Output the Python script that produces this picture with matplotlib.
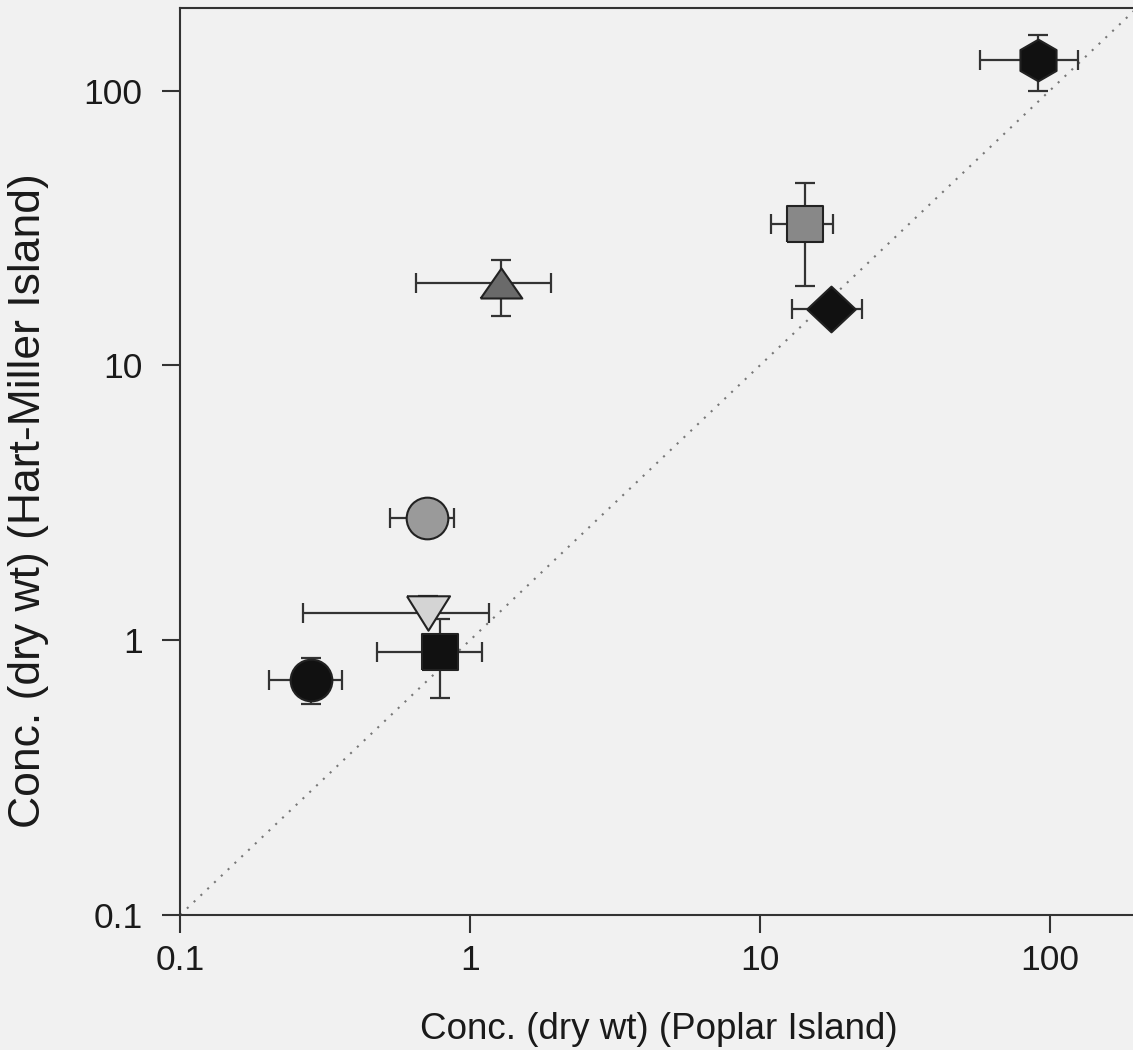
import matplotlib
matplotlib.use("Agg")
import matplotlib.pyplot as plt
import numpy as np

plt.rcParams["font.family"] = ["Liberation Sans", "DejaVu Sans"]

# ── data ───────────────────────────────────────────────────────────────
poplar = [0.283, 0.711, 0.716, 0.789, 1.28, 14.3, 17.6, 90.9]
poplar_lo = [0.203, 0.530, 0.265, 0.477, 0.652, 10.9, 12.9, 57.4]
poplar_hi = [0.362, 0.881, 1.16, 1.10, 1.90, 17.9, 22.5, 125.0]
hart_miller = [0.716, 2.78, 1.26, 0.904, 20.0, 32.8, 16.0, 129.7]
hart_miller_lo = [0.585, 2.78, 1.26, 0.615, 15.1, 19.4, 16.0, 100.0]
hart_miller_hi = [0.861, 2.78, 1.445, 1.19, 24.3, 46.3, 16.0, 160.0]

# ── marker shapes ───────────────────────────────────────────────────────
tri_up = [(-1, -0.72), (1, -0.72), (0, 0.72), (-1, -0.72)]
tri_down = [(-1, 0.8), (1, 0.8), (0, -0.8), (-1, 0.8)]
square = [(-1, -1), (1, -1), (1, 1), (-1, 1), (-1, -1)]
diamond = [(-1, 0), (0, 0.94), (1, 0), (0, -0.94), (-1, 0)]
hexagon = [(0, 1), (-0.866, 0.5), (-0.866, -0.5), (0, -1),
           (0.866, -0.5), (0.866, 0.5), (0, 1)]

styles = [
    dict(marker="o", ms=30, fc="#111111"),
    dict(marker="o", ms=30, fc="#9a9a9a"),
    dict(marker=tri_down, ms=31, fc="#d4d4d4"),
    dict(marker=square, ms=26, fc="#111111"),
    dict(marker=tri_up, ms=30, fc="#6a6a6a"),
    dict(marker=square, ms=26.5, fc="#888888"),
    dict(marker=diamond, ms=35, fc="#111111"),
    dict(marker=hexagon, ms=30, fc="#111111"),
]

fig = plt.figure(figsize=(11.33, 10.5), dpi=100)
fig.patch.set_facecolor("#f1f1f1")
ax = fig.add_axes([0.159, 0.1286, 0.8445, 0.8638])
ax.set_facecolor("#f1f1f1")

ax.set_xscale("log")
ax.set_yscale("log")
ax.set_xlim(0.1, 200)
ax.set_ylim(0.1, 200)

# 1:1 line
ax.plot([0.1, 200], [0.1, 200], linestyle=(0, (1, 3.5)), color="#777777",
        linewidth=1.5, zorder=1)

for i, st in enumerate(styles):
    x, y = poplar[i], hart_miller[i]
    xerr = [[x - poplar_lo[i]], [poplar_hi[i] - x]]
    yerr = [[y - hart_miller_lo[i]], [hart_miller_hi[i] - y]]
    ax.errorbar([x], [y], xerr=xerr, yerr=yerr, fmt="none",
                ecolor="#333333", elinewidth=1.6, capsize=7, capthick=1.6,
                zorder=2)
    ax.plot([x], [y], linestyle="", marker=st["marker"],
            markersize=st["ms"], markerfacecolor=st["fc"],
            markeredgecolor="#222222", markeredgewidth=1.5, zorder=3)

ax.set_xticks([0.1, 1, 10, 100])
ax.set_xticklabels(["0.1", "1", "10", "100"])
ax.set_yticks([0.1, 1, 10, 100])
ax.set_yticklabels(["0.1", "1", "10", "100"])
ax.minorticks_off()
ax.tick_params(axis="both", direction="out", length=13, width=1.5,
               color="#333333", labelsize=25.5, labelcolor="#1a1a1a")
ax.tick_params(axis="x", pad=8)
ax.tick_params(axis="y", pad=14)
for s in ax.spines.values():
    s.set_linewidth(1.5)
    s.set_color("#333333")

ax.set_xlabel("Conc. (dry wt) (Poplar Island)", fontsize=26.5,
              color="#1a1a1a")
ax.set_ylabel("Conc. (dry wt) (Hart-Miller Island)", fontsize=32,
              color="#1a1a1a")
ax.xaxis.set_label_coords(0.5, -0.107)
ax.yaxis.set_label_coords(-0.137, 0.457)

fig.savefig("out.png", dpi=100, facecolor=fig.get_facecolor())
